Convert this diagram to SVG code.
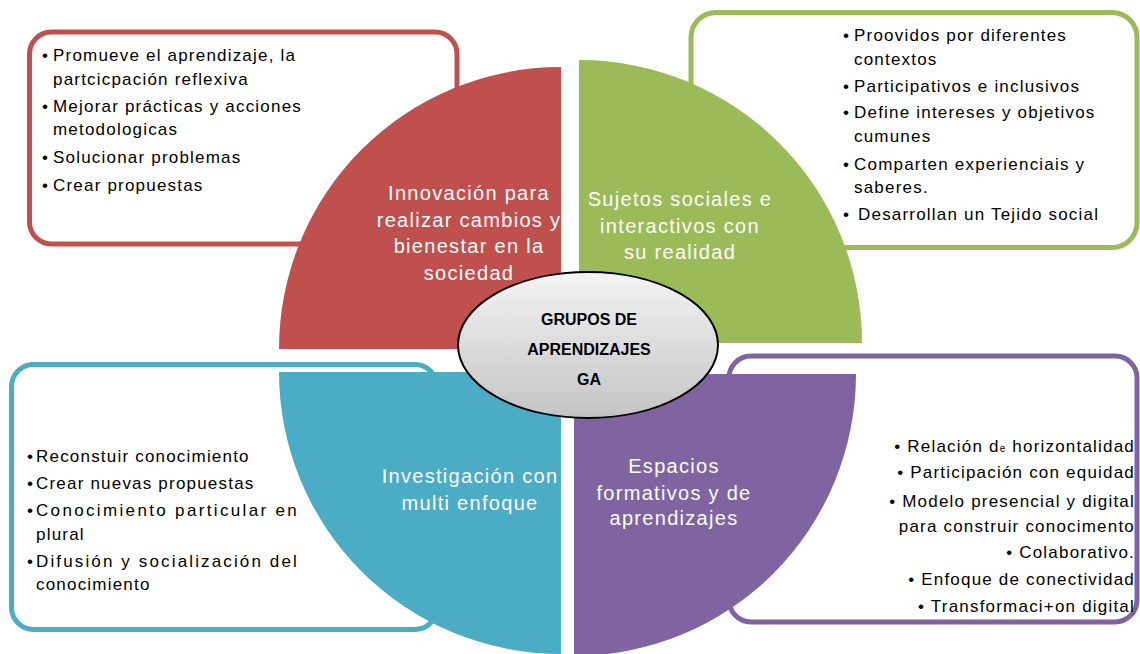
<svg xmlns="http://www.w3.org/2000/svg" width="1140" height="654" viewBox="0 0 1140 654">
<defs>
<linearGradient id="ellGrad" x1="0" y1="0" x2="0" y2="1">
<stop offset="0" stop-color="#f4f4f4"/>
<stop offset="0.5" stop-color="#dcdcdc"/>
<stop offset="1" stop-color="#c4c4c4"/>
</linearGradient>
<style>
.box{fill:#ffffff;stroke-width:5}
.lst{font-family:"Liberation Sans",Arial,sans-serif;font-size:17px;fill:#000000;letter-spacing:1.2px}
.qt{font-family:"Liberation Sans",Arial,sans-serif;font-size:20px;fill:#ffffff;letter-spacing:1.3px;text-anchor:middle}
.ct{font-family:"Liberation Sans",Arial,sans-serif;font-size:16px;font-weight:bold;fill:#000000;text-anchor:middle}
.end{text-anchor:end}
</style>
</defs>
<rect width="1140" height="654" fill="#ffffff"/>

<g id="box-red">
<rect class="box" x="29.5" y="32" width="427.5" height="212" rx="22" stroke="#C0504D"/>
<text class="lst" x="42" y="61">•</text><text class="lst" x="53" y="61">Promueve el aprendizaje, la</text>
<text class="lst" x="53" y="85">partcicpación reflexiva</text>
<text class="lst" x="42" y="112">•</text><text class="lst" x="53" y="112">Mejorar prácticas y acciones</text>
<text class="lst" x="53" y="135">metodologicas</text>
<text class="lst" x="42" y="163">•</text><text class="lst" x="53" y="163">Solucionar problemas</text>
<text class="lst" x="42" y="191">•</text><text class="lst" x="53" y="191">Crear propuestas</text>
</g>

<g id="box-green">
<rect class="box" x="691" y="12.5" width="446" height="235" rx="25" stroke="#9BBB59"/>
<text class="lst" x="843" y="41">•</text><text class="lst" x="854" y="41">Proovidos por  diferentes</text>
<text class="lst" x="854" y="65">contextos</text>
<text class="lst" x="843" y="92">•</text><text class="lst" x="854" y="92">Participativos e inclusivos</text>
<text class="lst" x="843" y="118">•</text><text class="lst" x="854" y="118">Define intereses y objetivos</text>
<text class="lst" x="854" y="142">cumunes</text>
<text class="lst" x="843" y="170">•</text><text class="lst" x="854" y="170">Comparten  experienciais y</text>
<text class="lst" x="854" y="193">saberes.</text>
<text class="lst" x="843" y="220">•</text><text class="lst" x="858" y="220">Desarrollan un Tejido social</text>
</g>

<g id="box-blue">
<rect class="box" x="11.5" y="364.5" width="425.5" height="265" rx="22" stroke="#4BACC6"/>
<text class="lst" x="27" y="462">•</text><text class="lst" x="36" y="462">Reconstuir conocimiento</text>
<text class="lst" x="27" y="489">•</text><text class="lst" x="36" y="489">Crear nuevas propuestas</text>
<text class="lst" x="27" y="516">•</text><text class="lst" x="36" y="516" textLength="262" lengthAdjust="spacing">Conocimiento particular en</text>
<text class="lst" x="36" y="540">plural</text>
<text class="lst" x="27" y="567">•</text><text class="lst" x="36" y="567" textLength="262" lengthAdjust="spacing">Difusión y socialización del</text>
<text class="lst" x="36" y="590">conocimiento</text>
</g>

<g id="box-purple">
<rect class="box" x="729" y="356" width="408" height="266" rx="22" stroke="#8064A2"/>
<text class="lst end" x="1135" y="452">• Relación d<tspan font-size="10px">e</tspan> horizontalidad</text>
<text class="lst end" x="1135" y="478">• Participación con equidad</text>
<text class="lst end" x="1135" y="507">• Modelo presencial y digital</text>
<text class="lst end" x="1135" y="532">para construir conocimento</text>
<text class="lst end" x="1135" y="558">• Colaborativo.</text>
<text class="lst end" x="1135" y="585">• Enfoque  de conectividad</text>
<text class="lst end" x="1135" y="612">• Transformaci+on digital</text>
</g>

<g id="q-red">
<path d="M561,349 L279,349 A282,282 0 0 1 561,67 Z" fill="#C0504D"/>
<text class="qt" x="469" y="200">Innovación para</text>
<text class="qt" x="469" y="227">realizar cambios y</text>
<text class="qt" x="469" y="253">bienestar en la</text>
<text class="qt" x="469" y="280">sociedad</text>
</g>

<g id="q-green">
<path d="M579,343 L579,60 A283,283 0 0 1 862,343 Z" fill="#9BBB59"/>
<text class="qt" x="680" y="206">Sujetos sociales e</text>
<text class="qt" x="680" y="233">interactivos con</text>
<text class="qt" x="680" y="259">su realidad</text>
</g>

<g id="q-blue">
<path d="M561,372 L561,654 A282,282 0 0 1 279,372 Z" fill="#4BACC6"/>
<text class="qt" x="470" y="483">Investigación con</text>
<text class="qt" x="470" y="510">multi enfoque</text>
</g>

<g id="q-purple">
<path d="M574,374 L856,374 A282,282 0 0 1 574,656 Z" fill="#8064A2"/>
<text class="qt" x="674" y="473">Espacios</text>
<text class="qt" x="674" y="500">formativos  y  de</text>
<text class="qt" x="674" y="525">aprendizajes</text>
</g>

<g id="center">
<ellipse cx="588" cy="345" rx="130" ry="73" fill="url(#ellGrad)" stroke="#000000" stroke-width="2"/>
<text class="ct" x="589" y="325">GRUPOS  DE</text>
<text class="ct" x="589" y="355">APRENDIZAJES</text>
<text class="ct" x="589" y="385">GA</text>
</g>

<g id="connectors"/>
</svg>
